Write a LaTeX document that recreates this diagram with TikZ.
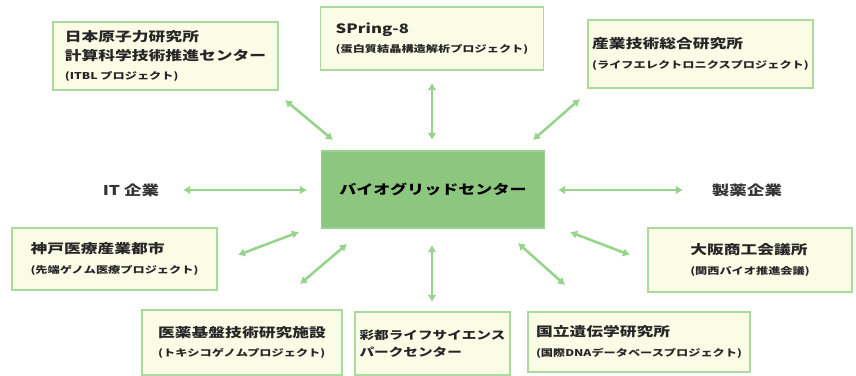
\documentclass[tikz,border=0pt]{standalone}
\usepackage{fontspec}
\newfontfamily\jp[FakeStretch=1.3]{Noto Sans CJK JP}
\usetikzlibrary{arrows.meta}

\definecolor{boxfill}{RGB}{250,252,230}
\definecolor{boxline}{RGB}{170,218,156}
\definecolor{hubfill}{RGB}{141,199,127}
\definecolor{linkgreen}{RGB}{150,212,140}

\newcommand{\proj}[1]{{\fontsize{8}{9}\selectfont #1}}

\tikzset{
  org/.style={draw=boxline, fill=boxfill, line width=1.6pt, inner sep=0pt, align=left,
    text=black!85, font=\jp\bfseries\fontsize{11}{16.5}\selectfont},
  hub/.style={draw=hubfill!85!white, fill=hubfill, line width=1pt, inner sep=0pt,
    font=\jp\bfseries\fontsize{11.2}{14}\selectfont},
  side/.style={inner sep=0pt, text=black!80, font=\jp\bfseries\fontsize{11.5}{14}\selectfont},
  link/.style={draw=linkgreen, line width=2.2pt, {Latex[length=6pt,width=7.5pt]}-{Latex[length=6pt,width=7.5pt]}}
}

\begin{document}
\begin{tikzpicture}[x=0.03cm, y=-0.03cm]
			\useasboundingbox (0,0) rectangle (856,376);

			% Draw the center box
			\node[hub, minimum width=6.69cm, minimum height=2.31cm] (hub) at (433,189.5) {バイオグリッドセンター};

			% Draw the boxes above
			\node[org, minimum width=6.75cm, minimum height=2.04cm] (jaea) at (165.5,56)
				{日本原子力研究所\\計算科学技術推進センター\\\proj{(ITBL プロジェクト)}};
			\node[org, minimum width=6.69cm, minimum height=1.89cm] (spring) at (432,38.5)
				{SPring-8\\\proj{(蛋白質結晶構造解析プロジェクト)}};
			\node[org, minimum width=6.75cm, minimum height=2.04cm] (aist) at (700.5,54)
				{産業技術総合研究所\\\proj{(ライフエレクトロニクスプロジェクト)}};

			% Draw the side labels
			\node[side] (itco) at (131,190) {IT 企業};
			\node[side] (pharma) at (747,190) {製薬企業};

			% Draw the boxes below
			\node[org, minimum width=6.15cm, minimum height=1.86cm] (kobe) at (114.5,259)
				{神戸医療産業都市\\\proj{(先端ゲノム医療プロジェクト)}};
			\node[org, minimum width=6.12cm, minimum height=1.92cm] (osaka) at (750,260)
				{大阪商工会議所\\\proj{(関西バイオ推進会議)}};
			\node[org, minimum width=6cm, minimum height=1.95cm] (iyaku) at (242,342.5)
				{医薬基盤技術研究施設\\\proj{(トキシコゲノムプロジェクト)}};
			\node[org, minimum width=4.65cm, minimum height=1.89cm, font=\jp\bfseries\fontsize{9.6}{15}\selectfont] (saito) at (432.5,343.5)
				{彩都ライフサイエンス\\パークセンター};
			\node[org, minimum width=6.66cm, minimum height=1.8cm] (nig) at (639,342)
				{国立遺伝学研究所\\\proj{(国際DNAデータベースプロジェクト)}};

			% Arrow ends round the center box
			\coordinate (jaeaA) at (285,100);   \coordinate (jaeaB) at (333,140);
			\coordinate (springA) at (432,83);  \coordinate (springB) at (432,140);
			\coordinate (aistA) at (580,99);    \coordinate (aistB) at (533,140);
			\coordinate (itcoA) at (183,190);   \coordinate (itcoB) at (307,190);
			\coordinate (pharmaA) at (683,190); \coordinate (pharmaB) at (558,190);
			\coordinate (kobeA) at (238,255);   \coordinate (kobeB) at (299,232);
			\coordinate (iyakuA) at (300,284);  \coordinate (iyakuB) at (347,244);
			\coordinate (saitoA) at (432,302);  \coordinate (saitoB) at (432,245);
			\coordinate (nigA) at (565,285);    \coordinate (nigB) at (518,243);
			\coordinate (osakaA) at (630,255);  \coordinate (osakaB) at (570,232);

			% Draw the arrows
			\draw[link] (jaeaA) -- (jaeaB);
			\draw[link] (springA) -- (springB);
			\draw[link] (aistA) -- (aistB);
			\draw[link] (itcoA) -- (itcoB);
			\draw[link] (pharmaA) -- (pharmaB);
			\draw[link] (kobeA) -- (kobeB);
			\draw[link] (iyakuA) -- (iyakuB);
			\draw[link] (saitoA) -- (saitoB);
			\draw[link] (nigA) -- (nigB);
			\draw[link] (osakaA) -- (osakaB);

		\end{tikzpicture}
\end{document}
